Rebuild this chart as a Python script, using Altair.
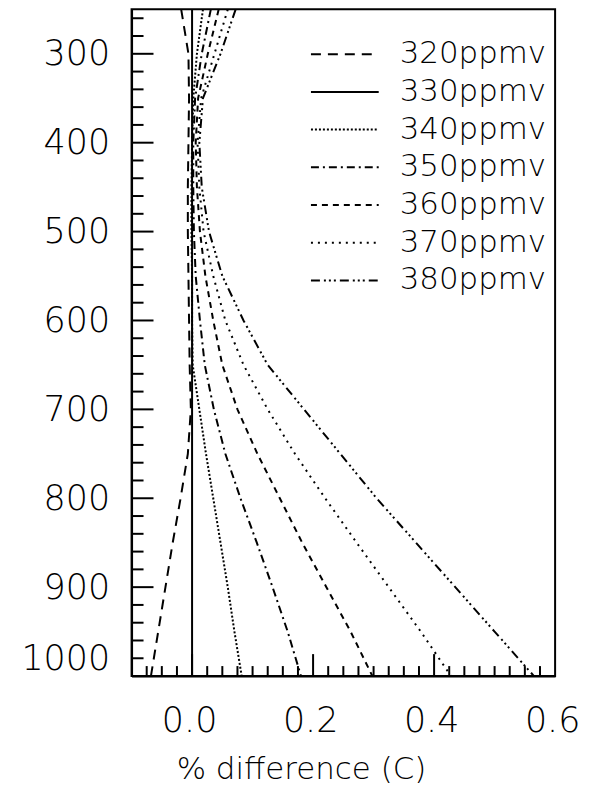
import altair as alt
import pandas as pd

# ---------------- data ----------------
pressure = [250, 300, 350, 400, 450, 500, 550, 600, 650, 700, 750, 800, 850, 900, 950, 1000]
series = ["320ppmv", "330ppmv", "340ppmv", "350ppmv", "360ppmv", "370ppmv", "380ppmv"]

d320 = [-0.018, -0.006, -0.005, -0.006, -0.007, -0.007, -0.006, -0.005, -0.004, -0.002, -0.007, -0.019, -0.032, -0.044, -0.056, -0.068]
d330 = [0.0, 0.0, 0.0, 0.0, 0.0, 0.0, 0.0, 0.0, 0.0, 0.0, 0.0, 0.0, 0.0, 0.0, 0.0, 0.0]
d340 = [0.018, 0.008, 0.002, 0.000, -0.001, -0.001, 0.000, 0.000, 0.001, 0.012, 0.023, 0.035, 0.047, 0.059, 0.070, 0.082]
d350 = [0.031, 0.016, 0.005, 0.002, 0.002, 0.003, 0.006, 0.013, 0.021, 0.036, 0.055, 0.080, 0.107, 0.133, 0.158, 0.180]
d360 = [0.044, 0.026, 0.010, 0.006, 0.008, 0.013, 0.022, 0.035, 0.050, 0.075, 0.108, 0.145, 0.182, 0.222, 0.262, 0.298]
d370 = [0.059, 0.037, 0.015, 0.009, 0.012, 0.019, 0.035, 0.055, 0.085, 0.125, 0.170, 0.220, 0.272, 0.325, 0.378, 0.428]
d380 = [0.072, 0.047, 0.018, 0.012, 0.016, 0.028, 0.050, 0.085, 0.125, 0.185, 0.245, 0.305, 0.370, 0.435, 0.500, 0.565]

y_labels = [300, 400, 500, 600, 700, 800, 900, 1000]
y_minor = [260, 280, 320, 340, 360, 380, 420, 440, 460, 480, 520, 540, 560, 580,
           620, 640, 660, 680, 720, 740, 760, 780, 820, 840, 860, 880, 920, 940, 960, 980]
x_labels = [0.0, 0.2, 0.4, 0.6]
x_major = [0.0, 0.2, 0.4]
x_minor = [-0.075, -0.05, -0.025, 0.025, 0.05, 0.075, 0.1, 0.125, 0.15, 0.175,
           0.225, 0.25, 0.275, 0.3, 0.325, 0.35, 0.375, 0.425, 0.45, 0.475,
           0.5, 0.525, 0.55, 0.575]

# ---------------- tables ----------------
rows = []
for name, vals in zip(series, [d320, d330, d340, d350, d360, d370, d380]):
    for p, v in zip(pressure, vals):
        rows.append({"series": name, "p": p, "v": v})
df = pd.DataFrame(rows)

W, H = 425, 669
FONT = "DejaVu Sans"
WEIGHT = 300

xs = alt.Scale(domain=[-0.1, 0.6], nice=False, zero=False)
ys = alt.Scale(domain=[250, 1000], reverse=True, nice=False, zero=False)
dash = alt.Scale(domain=series,
                 range=[[10, 7], [1, 0], [2, 2], [8, 4, 2, 4], [6, 5], [2, 5], [9, 4, 2, 3, 2, 3, 2, 4]])

x_axis = alt.Axis(
    values=x_labels, format=".1f", title="% difference (C)",
    ticks=False, tickSize=0, grid=False, labelFlush=False,
    labelFont=FONT, labelFontSize=35, labelFontWeight=WEIGHT, labelColor="black",
    labelPadding=28, labelOffset=-3,
    domainColor="black", domainWidth=2,
    titleFont=FONT, titleFontSize=31, titleFontWeight=WEIGHT, titleColor="black",
    titleX=170, titleY=103, titleAlign="center", titleBaseline="alphabetic")
y_axis = alt.Axis(
    values=y_labels, format="d", title=None, ticks=False, tickSize=0, grid=False, labelFlush=True,
    labelFont=FONT, labelFontSize=35, labelFontWeight=WEIGHT, labelColor="black", labelPadding=22,
    domainColor="black", domainWidth=2)

lines = alt.Chart(df).mark_line(color="black", strokeWidth=2).encode(
    x=alt.X("v:Q", scale=xs, axis=x_axis, title="% difference (C)"),
    y=alt.Y("p:Q", scale=ys, axis=y_axis, title=None),
    strokeDash=alt.StrokeDash("series:N", scale=dash, legend=None),
    detail="series:N",
    order=alt.Order("p:Q"),
)

ytick_major = alt.Chart(pd.DataFrame({"p": y_labels})).mark_rule(color="black", strokeWidth=2).encode(
    y=alt.Y("p:Q", scale=ys, axis=y_axis, title=None), x=alt.value(0), x2=alt.value(22))
ytick_minor = alt.Chart(pd.DataFrame({"p": y_minor})).mark_rule(color="black", strokeWidth=2).encode(
    y=alt.Y("p:Q", scale=ys, axis=y_axis, title=None), x=alt.value(0), x2=alt.value(12))
xtick_major = alt.Chart(pd.DataFrame({"v": x_major})).mark_rule(color="black", strokeWidth=2).encode(
    x=alt.X("v:Q", scale=xs, axis=x_axis, title="% difference (C)"), y=alt.value(H), y2=alt.value(H - 22))
xtick_minor = alt.Chart(pd.DataFrame({"v": x_minor})).mark_rule(color="black", strokeWidth=2).encode(
    x=alt.X("v:Q", scale=xs, axis=x_axis, title="% difference (C)"), y=alt.value(H), y2=alt.value(H - 10))

main = alt.layer(lines, ytick_major, ytick_minor, xtick_major, xtick_minor)

leg_df = pd.DataFrame({"series": series})
leg_y = alt.Y("series:N", scale=alt.Scale(type="point", domain=series, range=[45, 272], padding=0), axis=None)
leg_lines = alt.Chart(leg_df).mark_rule(color="black", strokeWidth=2).encode(
    y=leg_y, x=alt.value(180), x2=alt.value(248),
    strokeDash=alt.StrokeDash("series:N", scale=dash, legend=None))
leg_text = alt.Chart(leg_df).mark_text(align="left", baseline="middle", font=FONT, fontSize=31,
                                       fontWeight=WEIGHT, color="black").encode(
    y=leg_y, x=alt.value(269), text="series:N")
legend = alt.layer(leg_lines, leg_text)

chart = alt.layer(main, legend).resolve_scale(y="independent").properties(
    width=W, height=H,
    autosize=alt.AutoSizeParams(type="none"),
    padding={"left": 124, "top": 0, "right": 30, "bottom": 115},
    background="white",
).configure_view(stroke="black", strokeWidth=2)

chart.save("out.html", embed_options={"renderer": "svg", "actions": False})
